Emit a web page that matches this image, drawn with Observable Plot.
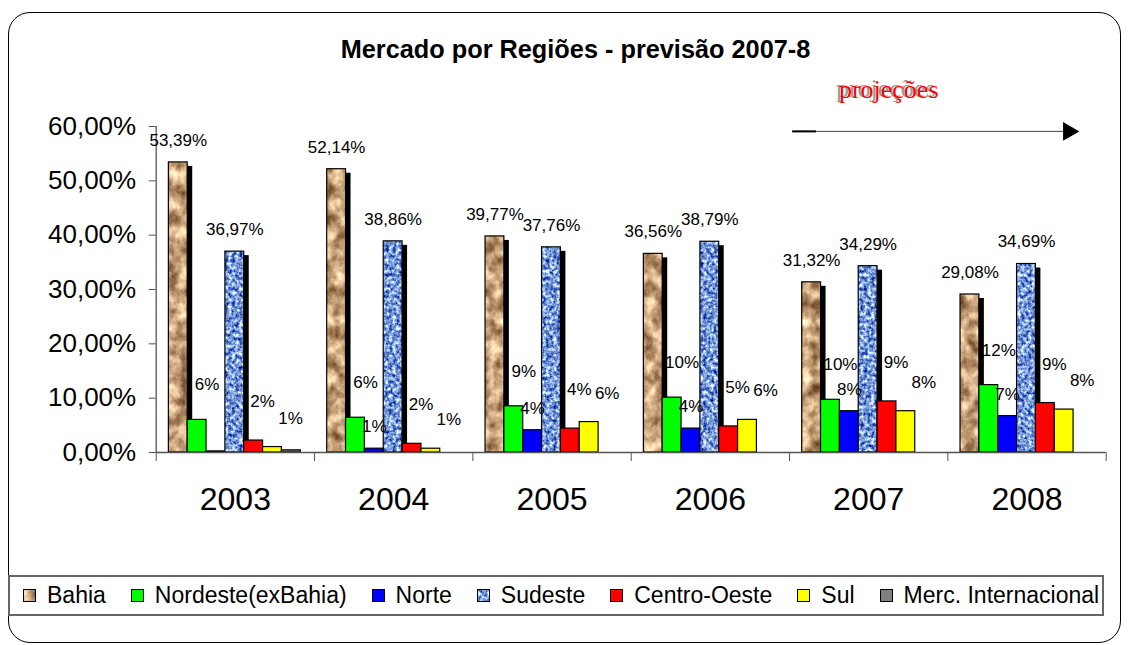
<!DOCTYPE html>
<html>
<head>
<meta charset="utf-8">
<script src="https://cdn.jsdelivr.net/npm/d3@7"></script>
<script src="https://cdn.jsdelivr.net/npm/@observablehq/plot@0.6"></script>
<style>
  html, body { margin: 0; padding: 0; background: #fff; }
  #wrap { position: relative; width: 1129px; height: 645px; overflow: hidden; font-family: "Liberation Sans", Arial, sans-serif; color: #000; }
  #frame { position: absolute; left: 8px; top: 12px; width: 1113px; height: 631px; box-sizing: border-box; border: 1.5px solid #000; border-radius: 22px; }
  #title { position: absolute; left: 11px; width: 1129px; top: 35px; text-align: center; font-weight: bold; font-size: 25.3px; line-height: 28px; }
  #chart { position: absolute; left: 0; top: 70px; }
  #legend { position: absolute; left: 8px; top: 575px; width: 1096px; height: 41px; box-sizing: border-box; border: 2px solid #666; display: flex; align-items: center; padding-left: 13px; font-size: 23px; white-space: nowrap; }
  #legend .item { display: flex; align-items: center; margin-right: 25px; }
  #legend svg { margin-right: 11px; display: block; }
</style>
</head>
<body>
<div id="wrap">
  <div id="frame"></div>
  <div id="title">Mercado por Regiões - previsão 2007-8</div>
  <div id="chart"></div>
  <div id="legend"></div>
</div>
<script>
// ---- data ----
const years = ["2003", "2004", "2005", "2006", "2007", "2008"];
const regions = ["Bahia", "Nordeste(exBahia)", "Norte", "Sudeste", "Centro-Oeste", "Sul", "Merc. Internacional"];
const bahia       = [53.39, 52.14, 39.77, 36.56, 31.32, 29.08];
const nordeste    = [6.0, 6.4, 8.5, 10.1, 9.7, 12.4];
const norte       = [0.2, 0.7, 4.1, 4.4, 7.6, 6.7];
const sudeste     = [36.97, 38.86, 37.76, 38.79, 34.29, 34.69];
const centroOeste = [2.2, 1.6, 4.4, 4.8, 9.4, 9.1];
const sul         = [1.0, 0.7, 5.6, 6.0, 7.6, 7.9];
const mercInt     = [0.4, 0, 0, 0, 0, 0];
const yTicks = [0, 10, 20, 30, 40, 50, 60];
const projectionYears = ["2007", "2008"];
const projectionLabel = "projeções";

// ---- styling (per series) ----
const seriesValues = [bahia, nordeste, norte, sudeste, centroOeste, sul, mercInt];
const fills = ["url(#texBahia)", "#00ff00", "#0000ff", "url(#texSudeste)", "#ff0000", "#ffff00", "#808080"];
const detailed = [true, false, false, true, false, false, false];
const shadowed = [true, false, false, true, false, false, false];
const labelDx = [0, 10, 0, 0, 9, 18, 0];
const labelDy = [-22, -35, -22, -22, -39, -29, -22];
const groupInset = 0.08, barW = 0.119;

const rows = [];
seriesValues.forEach((vals, j) => vals.forEach((v, i) => {
  rows.push({
    region: regions[j], year: years[i], value: v, fill: fills[j], j,
    x1: i + groupInset + j * barW, x2: i + groupInset + (j + 1) * barW,
    label: detailed[j] ? v.toFixed(2).replace(".", ",") + "%" : (Math.round(v) >= 1 ? Math.round(v) + "%" : "")
  });
}));
const shadowRows = rows.filter(d => shadowed[d.j]);
const labelRows = rows.filter(d => d.label !== "");
const yMax = yTicks[yTicks.length - 1];
const projStart = years.indexOf(projectionYears[0]) + 0.02;
const projLast = years.indexOf(projectionYears[projectionYears.length - 1]);
const fmtY = d => d.toFixed(2).replace(".", ",") + "%";
const arrowY = yMax - 0.9;

const axisColor = "#555";
const labelMarks = regions.map((r, j) => Plot.text(labelRows.filter(d => d.j === j), {
  x: d => (d.x1 + d.x2) / 2, y: "value", text: "label", dx: labelDx[j], dy: labelDy[j], fontSize: 17, fill: "#000"
}));

const chart = Plot.plot({
  width: 1129, height: 490,
  marginLeft: 155.7, marginRight: 23.3, marginTop: 56, marginBottom: 108,
  x: { type: "linear", domain: [0, years.length] },
  y: { domain: [0, yMax] },
  color: { type: "identity" },
  style: { fontFamily: "'Liberation Sans', Arial, sans-serif", fontSize: "17px", overflow: "visible", color: "#000", background: "transparent" },
  marks: [
    Plot.axisY({ ticks: yTicks, tickSize: 7, tickPadding: 13, tickFormat: fmtY, fontSize: 26, stroke: axisColor, label: null }),
    Plot.ruleX([0], { y1: 0, y2: yMax, stroke: axisColor, strokeWidth: 1.3 }),
    Plot.rectY(shadowRows, { x1: "x1", x2: "x2", y1: 0, y2: "value", fill: "#000", dx: 5, insetTop: 4 }),
    Plot.rectY(rows, { x1: "x1", x2: "x2", y1: 0, y2: "value", fill: "fill", stroke: "#000", strokeWidth: 1.2 }),
    Plot.ruleY([0], { stroke: axisColor, strokeWidth: 1.3 }),
    Plot.axisX({ ticks: d3.range(years.length + 1), tickSize: 9, tickFormat: () => "", stroke: axisColor, label: null }),
    Plot.axisX({ ticks: years.map((_, i) => i + 0.5), tickSize: 0, tickPadding: 35, fontSize: 32, tickFormat: d => years[Math.floor(d)], label: null }),
    ...labelMarks,
    // projections annotation
    Plot.ruleY([arrowY], { x1: projStart, x2: projLast + 0.745, stroke: "#444", strokeWidth: 1 }),
    Plot.ruleY([arrowY], { x1: projStart, x2: projStart + 0.15, stroke: "#000", strokeWidth: 2 }),
    Plot.dot([projLast + 0.762], { x: d => d, y: arrowY, symbol: "triangle", rotate: 90, r: 7, fill: "#000" }),
    Plot.text([projectionLabel], { x: projStart + 0.6, y: yMax, dy: -38, dx: -2, text: d => d, fontFamily: "'Liberation Serif', 'Times New Roman', serif", fontSize: 26, fill: "#999" }),
    Plot.text([projectionLabel], { x: projStart + 0.6, y: yMax, dy: -37, dx: 1, text: d => d, fontFamily: "'Liberation Serif', 'Times New Roman', serif", fontSize: 26, fill: "#ff0000" })
  ]
});

const defs = `
<defs>
  <filter id="fPaper" x="0" y="0" width="100%" height="100%" color-interpolation-filters="sRGB">
    <feTurbulence type="fractalNoise" baseFrequency="0.09 0.07" numOctaves="4" seed="11" result="n"/>
    <feColorMatrix in="n" type="matrix" values="0.95 0 0 0 0.30  1.0 0 0 0 0.13  0.95 0 0 0 0.0  0 0 0 0 1"/>
  </filter>
  <filter id="fDenim" x="0" y="0" width="100%" height="100%" color-interpolation-filters="sRGB">
    <feTurbulence type="fractalNoise" baseFrequency="0.28" numOctaves="3" seed="3" result="n"/>
    <feColorMatrix in="n" type="matrix" values="1.7 0 0 0 -0.38  1.6 0 0 0 -0.20  0.9 0 0 0 0.40  0 0 0 0 1"/>
  </filter>
  <pattern id="texBahia" patternUnits="userSpaceOnUse" width="300" height="500">
    <rect width="300" height="500" filter="url(#fPaper)"/>
  </pattern>
  <pattern id="texSudeste" patternUnits="userSpaceOnUse" width="300" height="500">
    <rect width="300" height="500" filter="url(#fDenim)"/>
  </pattern>
</defs>`;
chart.insertAdjacentHTML("afterbegin", defs);
document.getElementById("chart").appendChild(chart);

const legend = document.getElementById("legend");
regions.forEach((r, j) => {
  const item = document.createElement("div");
  item.className = "item";
  item.innerHTML = `<svg width="13" height="13"><rect x="0.5" y="0.5" width="12" height="12" fill="${fills[j]}" stroke="#000" stroke-width="1"/></svg><span>${r}</span>`;
  legend.appendChild(item);
});
</script>
</body>
</html>
